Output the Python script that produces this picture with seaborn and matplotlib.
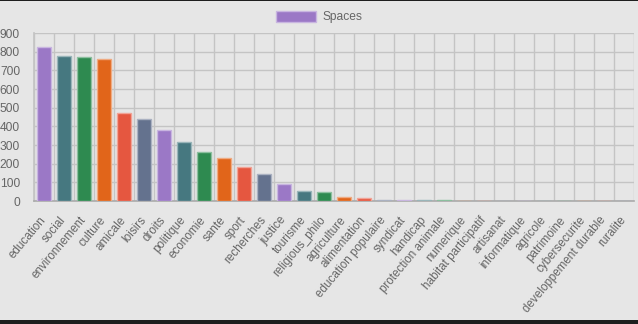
import matplotlib
matplotlib.use("Agg")
import matplotlib.pyplot as plt
import matplotlib.patches as mpatches
import matplotlib.transforms as mtransforms
import seaborn as sns
import pandas as pd
import numpy as np

categories = ["education", "social", "environnement", "culture", "amicale", "loisirs",
              "droits", "politique", "economie", "sante", "sport", "recherches",
              "justice", "tourisme", "religious_philo", "agriculture", "alimentation",
              "education populaire", "syndicat", "handicap", "protection animale",
              "numerique", "habitat participatif", "artisanat", "informatique",
              "agricole", "patrimoine", "cybersecurite", "developpement durable", "ruralite"]
values = [825, 779, 773, 761, 470, 438, 382, 318, 264, 230, 184, 145, 93, 52, 47,
          21, 18, 4, 3, 3, 3, 2, 2, 2, 0, 0, 0, 1, 1, 1]
series_name = "Spaces"
base_colors = ["#9b78c6", "#467880", "#2e8a50", "#e1651a", "#e55740", "#64728e"]

df = pd.DataFrame({"category": categories, "value": values})
palette = [base_colors[i % len(base_colors)] for i in range(len(categories))]

sns.set_theme(style="white")
plt.rcParams['font.family'] = ['Liberation Sans', 'DejaVu Sans']

bg = "#e6e6e6"
grid_c = "#c4c4c4"
text_c = "#666666"
fs = 8.64
fs_x = 8.4

fig = plt.figure(figsize=(6.38, 3.24), dpi=100)
fig.patch.set_facecolor(bg)
ax = fig.add_axes([34/638, 123/324, 600/638, 168/324])
ax.set_facecolor(bg)

sns.barplot(data=df, x="category", y="value", hue="category", palette=palette,
            legend=False, width=0.72, ax=ax, saturation=1, zorder=3)

def lighten(c, amt=0.45):
    r, g, b = matplotlib.colors.to_rgb(c)
    return (r + (1 - r) * amt, g + (1 - g) * amt, b + (1 - b) * amt)

for i, p in enumerate(ax.patches):
    col = palette[i % len(palette)]
    p.set_edgecolor(lighten(col))
    p.set_linewidth(1.0)

n = len(categories)
ax.set_xlim(-0.5, n - 0.5)
ax.set_ylim(0, 900)
ax.set_yticks(np.arange(0, 901, 100))
ax.set_xticks(np.arange(n))
ax.set_xticks(np.arange(-0.5, n, 1.0), minor=True)
ax.set_xticklabels(categories, rotation=50, ha="right", va="center",
                   rotation_mode="anchor", fontsize=fs_x, color=text_c)
shift = mtransforms.ScaledTranslation(-2/100, 0, fig.dpi_scale_trans)
for lab in ax.get_xticklabels():
    lab.set_transform(lab.get_transform() + shift)
ax.tick_params(axis="x", which="major", length=0, pad=12.3)
ax.tick_params(axis="x", which="minor", length=7, width=1, color=grid_c)
ax.tick_params(axis="y", length=9, width=1, color=grid_c, labelsize=fs,
               labelcolor=text_c, pad=1)
ax.grid(True, axis="y", which="major", color=grid_c, linewidth=1, zorder=0)
ax.grid(True, axis="x", which="minor", color=grid_c, linewidth=1, zorder=0)
ax.grid(False, axis="x", which="major")
ax.set_axisbelow(True)
for s in ["top", "right"]:
    ax.spines[s].set_visible(False)
ax.spines["left"].set_color(grid_c)
ax.spines["bottom"].set_color("#aaaaaa")
ax.spines["bottom"].set_linewidth(1.2)
ax.set_xlabel("")
ax.set_ylabel("")

handle = mpatches.Patch(facecolor=base_colors[0], edgecolor=lighten(base_colors[0]),
                        label=series_name)
leg = fig.legend(handles=[handle], loc="center", bbox_to_anchor=(319/638, 1 - 17/324),
                 frameon=False, fontsize=fs, handlelength=3.4, handleheight=1.0,
                 handletextpad=0.5, labelcolor=text_c)

# dark bands at top and bottom edges of the screenshot
fig.patches.append(mpatches.Rectangle((0, 0), 1, 4/324, transform=fig.transFigure,
                                      facecolor="#1e1e1e", edgecolor="none", zorder=10))
fig.patches.append(mpatches.Rectangle((0, 1 - 1/324), 1, 1/324, transform=fig.transFigure,
                                      facecolor="#1e1e1e", edgecolor="none", zorder=10))

fig.savefig("out.png", dpi=100, facecolor=bg)
